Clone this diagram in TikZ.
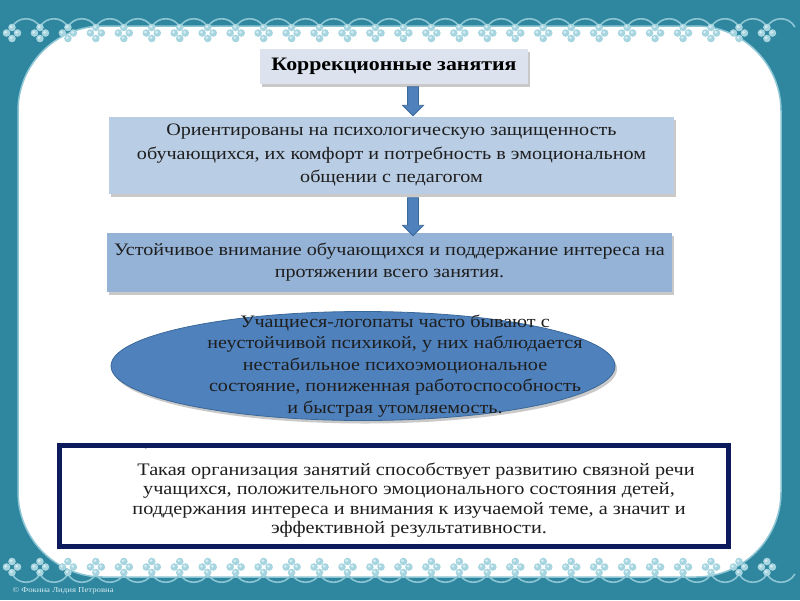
\documentclass[tikz,border=0pt]{standalone}
\usepackage{fontspec}
\setmainfont{Liberation Serif}[FakeStretch=1.15]
\usetikzlibrary{shapes.geometric,shapes.arrows,shadows}
\definecolor{tealbg}{HTML}{2E869F}
\definecolor{bead}{HTML}{A6D5E0}
\definecolor{beadin}{HTML}{D6EEF3}
\definecolor{beadline}{HTML}{8CC6D4}
\definecolor{boxa}{HTML}{DCE3EF}
\definecolor{boxb}{HTML}{B9CDE5}
\definecolor{boxc}{HTML}{95B3D7}
\definecolor{ellf}{HTML}{4F81BD}
\definecolor{elld}{HTML}{3A6898}
\definecolor{navy}{HTML}{0D1B5C}
\definecolor{txt}{HTML}{1E1E1E}
\begin{document}
\begin{tikzpicture}[x=1pt,y=-1pt,
  shad/.style={drop shadow={shadow xshift=2pt,shadow yshift=-3pt,opacity=0.35,fill=black!60}},
  plainbox/.style={rectangle,inner sep=0pt,align=center,text=txt,shad},
  barrow/.style={single arrow,rotate=-90,draw=elld,fill=ellf,line width=0.8pt,
     inner sep=5pt,single arrow head extend=5pt,single arrow tip angle=90}
]
\useasboundingbox (0,0) rectangle (800,600);
% background
\fill[tealbg] (0,0) rectangle (800,600);
\draw[beadline,line width=1.5pt,fill=white,rounded corners=85pt] (18,26) rectangle (781,577);
% decorative bead borders
\foreach \i in {0,...,27}{
  \pgfmathsetmacro{\xx}{12+27.96*\i}
  \draw[beadline,line width=1.6pt] (\xx,27) .. controls (\xx+6,16) and (\xx+22,16) .. (\xx+27.96,27);
  \draw[beadline,line width=1.6pt] (\xx,574) .. controls (\xx+6,585) and (\xx+22,585) .. (\xx+27.96,574);
  \foreach \yy in {33,567}{
    \foreach \dx/\dy in {-5.5/0,5.5/0,0/-5.5,0/5.5}{
      \fill[bead] (\xx+\dx,\yy+\dy) circle (3.8);
      \fill[beadin] (\xx+\dx-0.8,\yy+\dy-0.8) circle (1.5);
    }
  }
}
\node[text=beadin,font=\fontsize{7.6}{10}\selectfont,anchor=west] (copy) at (9,591) {© Фокина Лидия Петровна};

% boxes
\node[plainbox,fill=boxa,minimum width=268,minimum height=35,text=black,
      font=\bfseries\fontsize{19}{22}\selectfont] (t1) at (394,66) {Коррекционные занятия};
\node[plainbox,fill=boxb,minimum width=565,minimum height=77,font=\fontsize{17.5}{23.5}\selectfont] (t2) at (391.5,155.5)
  {Ориентированы на психологическую защищенность\\обучающихся, их комфорт и потребность в эмоциональном\\общении с педагогом};
\node[plainbox,fill=boxc,minimum width=565,minimum height=59,font=\fontsize{17.5}{22}\selectfont] (t3) at (389.5,262)
  {Устойчивое внимание обучающихся и поддержание интереса на\\протяжении всего занятия.};

% arrows
\coordinate (a1s) at (413,84);
\coordinate (a1e) at (413,113);
\path (a1s) -- (a1e) node[midway,barrow,minimum height=29] (ar1) {};
\coordinate (a2s) at (413,195);
\coordinate (a2e) at (413,233);
\path (a2s) -- (a2e) node[midway,barrow,minimum height=38] (ar2) {};

% ellipse
\node[ellipse,draw=elld,fill=ellf,line width=0.8pt,minimum width=504,minimum height=109,shad] (e) at (363,366) {};
\node[align=center,text=txt,font=\fontsize{17.5}{21.5}\selectfont] (et) at (395,366)
  {Учащиеся-логопаты часто бывают с\\неустойчивой психикой, у них наблюдается\\нестабильное психоэмоциональное\\состояние, пониженная работоспособность\\и быстрая утомляемость.};

% bottom box
\node[rectangle,draw=navy,line width=5pt,fill=white,minimum width=669,minimum height=101] (t4) at (394,496) {};
\node[text=gray,font=\fontsize{9}{9}\selectfont] (dot) at (146,449) {.};
\node[align=center,text=txt,font=\fontsize{17.6}{19.3}\selectfont] (t4t) at (409,500)
  {\hspace*{14pt}Такая организация занятий способствует развитию связной речи\\учащихся, положительного эмоционального состояния детей,\\поддержания интереса и внимания к изучаемой теме, а значит и\\эффективной результативности.};
\end{tikzpicture}
\end{document}
